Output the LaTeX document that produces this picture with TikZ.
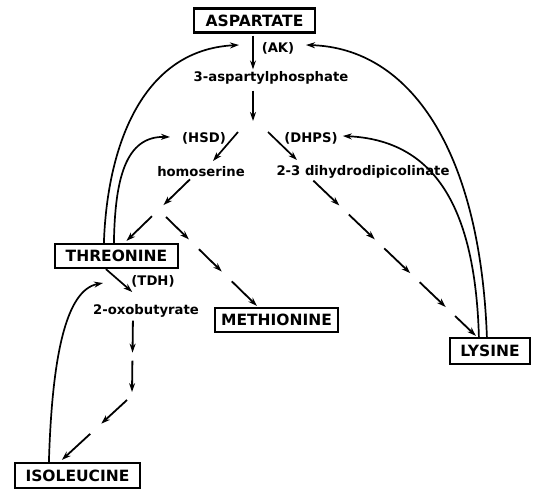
\documentclass[tikz,border=0pt]{standalone}
\usepackage{fontspec}
\setmainfont{DejaVu Sans}
\usetikzlibrary{arrows.meta,calc}
\newcommand\flowseg[4]{\draw[farr] ($(#1)!#3pt!(#2)$) -- ($(#1)!#4pt!(#2)$);}
\newcommand\flowend[3]{\draw[farr] ($(#1)!#3pt!(#2)$) -- (#2);}
\begin{document}
\begin{tikzpicture}[x=1pt,y=-1pt,
  box/.style={draw,line width=2.2pt,inner sep=0pt,minimum height=24pt,font=\bfseries\fontsize{15.5}{15.5}\selectfont},
  lbl/.style={inner sep=0pt,font=\bfseries\fontsize{13.2}{13.2}\selectfont},
  tip/.style={-{Stealth[length=9pt,width=6pt]}},
  arr/.style={line width=1.7pt,tip},
  farr/.style={line width=1.8pt,tip}
]
\useasboundingbox (0,0) rectangle (534,492);
% nodes
\node[box,minimum width=121pt] (asp) at (254.5,20.5) {ASPARTATE};
\node[lbl] (ak) at (278,48) {(AK)};
\node[lbl] (p3) at (271,78) {3-aspartylphosphate};
\node[lbl] (hsd) at (204,138) {(HSD)};
\node[lbl] (dhps) at (311,138) {(DHPS)};
\node[lbl] (homo) at (201,172) {homoserine};
\node[lbl] (dhp) at (363,172) {2-3 dihydrodipicolinate};
\node[box,minimum width=123pt] (thr) at (116.5,256) {THREONINE};
\node[lbl] (tdh) at (153,281) {(TDH)};
\node[lbl] (oxo) at (146,311) {2-oxobutyrate};
\node[box,minimum width=123pt] (met) at (276.5,320) {METHIONINE};
\node[box,minimum width=80pt,minimum height=26pt] (lys) at (490,351) {LYSINE};
\node[box,minimum width=125pt,minimum height=25pt] (ile) at (77.5,475.5) {ISOLEUCINE};
% helper coordinates
\coordinate (br) at (253,121);
\coordinate (hsdtop) at (238,132);
\coordinate (hsdend) at (213,161);
\coordinate (dhtop) at (268,132);
\coordinate (dhend) at (297,160);
\coordinate (akL) at (239,45);
\coordinate (akR) at (306,45);
\coordinate (thrin) at (103,283);
\coordinate (jm) at (166,217);
\coordinate (j2) at (132,392);
\coordinate (f1a) at ($(homo.south)+(-11,2)$);
\coordinate (f1b) at ($(thr.north)+(10,-2)$);
\coordinate (f2b) at ($(met.north west)+(43,-1)$);
\coordinate (f3a) at ($(dhp.south west)+(37,2)$);
\coordinate (f3b) at ($(lys.north west)+(27,-1)$);
\coordinate (f4a) at ($(oxo.south west)+(40,3)$);
\coordinate (f5a) at ($(j2)+(-5,8)$);
\coordinate (f5b) at ($(ile.north west)+(48,-2)$);
% main pathway
\draw[arr] ($(asp.south)+(-1.5,2)$) -- ($(asp.south |- p3.north)+(-1.5,-2)$);
\draw[arr] ($(asp.south |- p3.south)+(-1.5,6)$) -- (br);
\draw[arr] (hsdtop) -- (hsdend);
\draw[arr] (dhtop) -- (dhend);
\draw[arr] ($(thr.south west)+(52,0)$) -- ($(tdh.west)+(1,11)$);
% dashed flows (dash segments, each ending in an arrowhead)
\flowseg{f1a}{f1b}{0}{37}\flowend{f1a}{f1b}{53}
\flowseg{jm}{f2b}{0}{32}\flowseg{jm}{f2b}{46}{78}\flowend{jm}{f2b}{92}
\flowseg{f3a}{f3b}{0}{36}\flowseg{f3a}{f3b}{49}{85}\flowseg{f3a}{f3b}{98}{134}\flowseg{f3a}{f3b}{147}{183}\flowend{f3a}{f3b}{196}
\flowseg{f4a}{j2}{0}{32}\flowend{f4a}{j2}{40}
\flowseg{f5a}{f5b}{0}{35}\flowend{f5a}{f5b}{50}
% feedback
\draw[arr] ($(thr.north west)+(50,0)$) .. controls (107,150) and (140,50) .. (akL);
\draw[arr] ($(thr.north west)+(60,0)$) .. controls (115,180) and (125,136) .. ($(hsd.west)+(-12,-1)$);
\draw[arr] ($(lys.north west)+(38,0)$) .. controls (480,150) and (410,48) .. (akR);
\draw[arr] ($(lys.north west)+(30,0)$) .. controls (475,200) and (430,140) .. ($(dhps.east)+(5,-2)$);
\draw[arr] ($(ile.north west)+(35,0)$) .. controls (52,360) and (65,290) .. (thrin);
\end{tikzpicture}
\end{document}
